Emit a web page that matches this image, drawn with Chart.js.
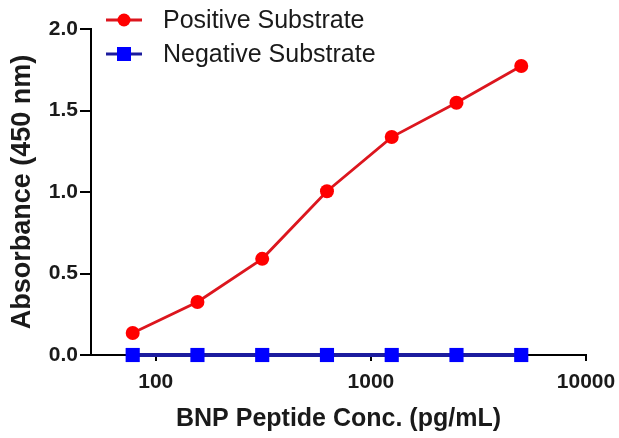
<!DOCTYPE html>
<html>
<head>
<meta charset="utf-8">
<script src="https://cdn.jsdelivr.net/npm/chart.js@4.4.0/dist/chart.umd.min.js"></script>
<style>
  html, body { margin: 0; padding: 0; background: #fff; }
  #wrap { width: 619px; height: 438px; position: relative; }
</style>
</head>
<body>
<div id="wrap"><canvas id="absChart"></canvas></div>
<script>
const Concentrations = [78.125, 156.25, 312.5, 625, 1250, 2500, 5000];
const Positive_Values = [0.135, 0.325, 0.59, 1.005, 1.337, 1.548, 1.773];
const Negative_Values = [0.0, 0.0, 0.0, 0.0, 0.0, 0.0, 0.0];
const X_Ticks = [100, 1000, 10000];
const Series_Labels = ['Positive Substrate', 'Negative Substrate'];

const Font_Family = '"Liberation Sans", Arial, sans-serif';

// legend drawn inside the plot, top-left, like the original figure
const Inner_Legend = {
    id: 'innerLegend',
    afterDraw(Chart_Ref) {
        const Ctx = Chart_Ref.ctx;
        Ctx.save();
        Chart_Ref.data.datasets.forEach((Ds, i) => {
            const Y = 20 + i * 34;
            const X0 = 106;
            Ctx.strokeStyle = Ds.borderColor;
            Ctx.lineWidth = 3;
            Ctx.beginPath();
            Ctx.moveTo(X0, Y);
            Ctx.lineTo(X0 + 36, Y);
            Ctx.stroke();
            Ctx.fillStyle = Ds.pointBackgroundColor;
            if (Ds.pointStyle === 'rect') {
                Ctx.fillRect(X0 + 18 - 7, Y - 7, 14, 14);
            } else {
                Ctx.beginPath();
                Ctx.arc(X0 + 18, Y, 6.5, 0, Math.PI * 2);
                Ctx.fill();
            }
            Ctx.fillStyle = '#1a1a1a';
            Ctx.font = '25px ' + Font_Family;
            Ctx.textBaseline = 'middle';
            Ctx.textAlign = 'left';
            Ctx.fillText(Ds.label, 163, Y + 1);
        });
        Ctx.restore();
    }
};

const Ctx = document.getElementById('absChart').getContext('2d');
new Chart(Ctx, {
    type: 'line',
    data: {
        datasets: [
            {
                label: Series_Labels[0],
                data: Concentrations.map((X, i) => ({ x: X, y: Positive_Values[i] })),
                borderColor: '#dc161e',
                borderWidth: 2.8,
                pointStyle: 'circle',
                pointRadius: 7,
                pointBackgroundColor: '#ff0000',
                pointBorderWidth: 0,
                tension: 0,
                clip: false
            },
            {
                label: Series_Labels[1],
                data: Concentrations.map((X, i) => ({ x: X, y: Negative_Values[i] })),
                borderColor: '#1c1c9e',
                borderWidth: 4,
                pointStyle: 'rect',
                pointRadius: 10,
                pointBackgroundColor: '#0000ff',
                pointBorderWidth: 0,
                tension: 0,
                clip: false
            }
        ]
    },
    options: {
        responsive: true,
        maintainAspectRatio: false,
        animation: false,
        layout: { padding: { left: 0, right: 33, top: 29, bottom: 0 } },
        plugins: { legend: { display: false }, tooltip: { enabled: false } },
        scales: {
            x: {
                type: 'logarithmic',
                min: 50,
                max: 10000,
                afterBuildTicks: Axis => { Axis.ticks = X_Ticks.map(V => ({ value: V })); },
                afterFit: Axis => {
                    Axis.height = 83;
                    Axis.paddingRight = 0;
                    Axis.paddingLeft = 0;
                },
                border: { color: '#000', width: 2 },
                grid: { drawOnChartArea: false, drawTicks: true, tickLength: 6, color: '#000', lineWidth: 2 },
                ticks: {
                    color: '#1a1a1a',
                    font: { family: Font_Family, size: 21, weight: 'bold' },
                    padding: 9,
                    maxRotation: 0,
                    autoSkip: false,
                    callback: V => String(V)
                },
                title: {
                    display: true,
                    text: 'BNP Peptide Conc. (pg/mL)',
                    color: '#1a1a1a',
                    font: { family: Font_Family, size: 25, weight: 'bold' },
                    padding: { top: 0, bottom: 4 }
                }
            },
            y: {
                min: 0,
                max: 2,
                afterFit: Axis => { Axis.width = 91; },
                border: { color: '#000', width: 2 },
                grid: { drawOnChartArea: false, drawTicks: true, tickLength: 11, color: '#000', lineWidth: 2 },
                ticks: {
                    stepSize: 0.5,
                    color: '#1a1a1a',
                    font: { family: Font_Family, size: 21, weight: 'bold' },
                    padding: 2,
                    callback: V => Number(V).toFixed(1)
                },
                title: {
                    display: true,
                    text: 'Absorbance (450 nm)',
                    color: '#1a1a1a',
                    font: { family: Font_Family, size: 27, weight: 'bold' },
                    padding: { top: 6, bottom: 0 }
                }
            }
        }
    },
    plugins: [Inner_Legend]
});
</script>
</body>
</html>
